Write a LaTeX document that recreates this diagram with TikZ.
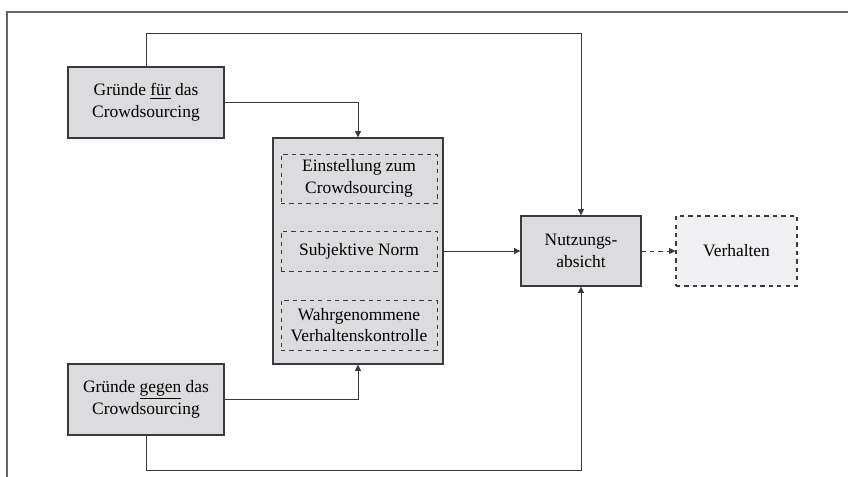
\documentclass[tikz,border=0pt]{standalone}
\usepackage{fontspec}
\setmainfont{Liberation Serif}
\usetikzlibrary{arrows.meta}

\definecolor{boxgray}{HTML}{DCDCDE}
\definecolor{lightbox}{HTML}{F0F0F2}
\definecolor{linegray}{HTML}{3A3A3A}

\tikzset{
  factor/.style={draw=linegray, fill=boxgray, line width=0.8pt, align=center,
    inner sep=0pt, font=\fontsize{12.4}{15.4}\selectfont},
  inner/.style={draw=linegray, dashed, line width=0.7pt, align=center,
    inner sep=0pt, minimum width=156*0.025cm, font=\fontsize{12.4}{15.4}\selectfont},
  link/.style={draw=linegray, line width=0.7pt, -{Triangle[length=1.6mm,width=1.5mm]}},
}

\begin{document}
\begin{tikzpicture}[x=0.025cm, y=-0.025cm]
    \useasboundingbox (0,0) rectangle (848,477);
    % open frame, left and top edge only
    \draw[draw=gray!80!black, line width=1pt] (7,477) -- (7,12) -- (848,12);

    % reasons for and against
    \node[factor, minimum width=156*0.025cm, minimum height=71*0.025cm] (fuer) at (146,102.5)
        {Gründe \underline{für} das\\Crowdsourcing};
    \node[factor, minimum width=156*0.025cm, minimum height=71*0.025cm] (gegen) at (146,399.5)
        {Gründe \underline{gegen} das\\Crowdsourcing};

    % central block with the three attitudes
    \node[factor, minimum width=170*0.025cm, minimum height=226*0.025cm] (mid) at (358,251) {};
    \node[inner, minimum height=49*0.025cm] (einst) at (359,178.5) {Einstellung zum\\Crowdsourcing};
    \node[inner, minimum height=40*0.025cm] (norm) at (359,251) {Subjektive Norm};
    \node[inner, minimum height=50*0.025cm] (wahr) at (359,325) {Wahrgenommene\\Verhaltenskontrolle};

    % intention and behaviour
    \node[factor, minimum width=120*0.025cm, minimum height=70*0.025cm] (nutz) at (581,251)
        {Nutzungs-\\absicht};
    \node[factor, fill=lightbox, dashed, minimum width=121*0.025cm, minimum height=70*0.025cm] (verh)
        at (736.5,251) {Verhalten};

    % connectors
    \coordinate (topc) at (581,33);
    \coordinate (botc) at (581,470);
    \draw[link] (fuer.north) |- (topc) -- (nutz.north);
    \draw[link] (fuer.east) -| (mid.north);
    \draw[link] (gegen.east) -| (mid.south);
    \draw[link] (gegen.south) |- (botc) -- (nutz.south);
    \draw[link] (mid.east) -- (nutz.west);
    \draw[link, dashed] (nutz.east) -- (verh.west);
\end{tikzpicture}
\end{document}
